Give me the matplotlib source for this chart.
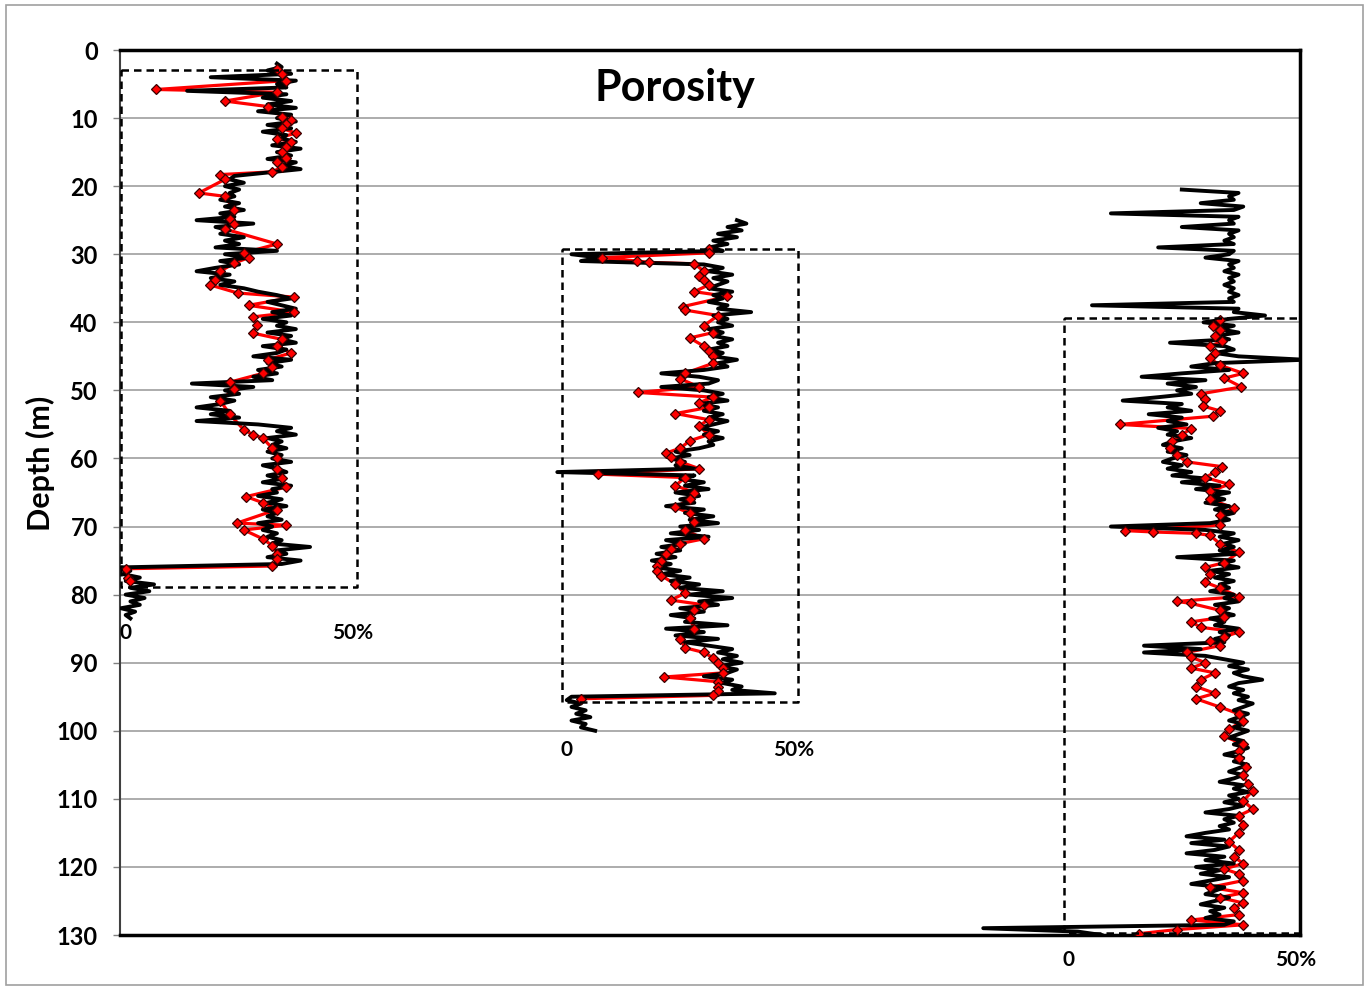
import numpy as np
import matplotlib
matplotlib.use("Agg")
import matplotlib.pyplot as plt
from matplotlib import rc
from matplotlib.patches import Rectangle

rc('font', family='Lato', weight='bold', size=15)

#################################
##      log porosity (%)       ##
#################################
# log samples every 0.5 m starting at the given top depth

log1_top = 2.0
log1_phi = [33, 34, 31, 36, 19, 37, 33, 35, 14, 35,
            30, 36, 31, 37, 29, 36, 33, 37, 31, 36,
            30, 35, 34, 37, 32, 38, 33, 36, 31, 37,
            34, 38, 31, 24, 23, 26, 22, 25, 23, 24,
            21, 25, 22, 26, 21, 24, 16, 28, 20, 23,
            21, 26, 22, 25, 20, 33, 22, 27, 21, 25,
            20, 16, 23, 19, 24, 21, 26, 29, 33, 36,
            31, 34, 37, 32, 36, 30, 35, 33, 37, 31,
            36, 34, 37, 30, 35, 33, 28, 36, 31, 34,
            29, 33, 28, 32, 15, 28, 22, 25, 19, 24,
            21, 16, 23, 19, 25, 16, 29, 36, 33, 37,
            31, 34, 32, 35, 31, 34, 32, 36, 30, 33,
            35, 31, 34, 30, 36, 32, 33, 29, 34, 31,
            35, 30, 33, 31, 34, 29, 32, 30, 33, 31,
            34, 32, 40, 33, 35, 31, 38, 34, 0, 2,
            0.5, 4, 1, 7, 2, 6, 1, 5, 2, 4,
            0, 3, 1, 2]

log2_top = 25.0
log2_phi = [37, 39, 35, 38, 33, 37, 32, 35, 31, 34,
            2, 8, 4, 30, 34, 31, 36, 32, 35, 33,
            31, 36, 32, 34, 31, 35, 33, 40, 32, 35,
            33, 36, 31, 34, 32, 36, 33, 35, 31, 34,
            32, 37, 33, 35, 30, 21, 29, 33, 31, 21,
            30, 34, 31, 35, 29, 33, 30, 34, 31, 35,
            32, 29, 33, 30, 34, 31, 32, 29, 24, 27,
            23, 26, 24, 28, -1, 28, 25, 30, 26, 31,
            24, 29, 25, 28, 22, 30, 26, 32, 27, 33,
            25, 29, 23, 31, 22, 26, 21, 25, 20, 24,
            19, 23, 20, 25, 21, 27, 23, 29, 25, 34,
            27, 36, 29, 33, 25, 30, 23, 28, 26, 35,
            22, 30, 24, 33, 26, 31, 36, 33, 37, 34,
            38, 33, 37, 35, 30, 36, 34, 38, 36, 45,
            2, 1, 4, 2, 5, 3, 6, 2, 5, 4,
            7]

log3_top = 20.5
log3_phi = [25, 37, 35, 36, 29, 38, 36, 10, 37, 35,
            36, 25, 37, 35, 36, 34, 36, 20, 36, 35,
            30, 37, 35, 36, 34, 37, 35, 36, 34, 36,
            35, 37, 35, 36, 6, 37, 36, 42.6, 35, 29.6,
            36, 33, 37, 32, 35, 22.5, 34, 36, 32, 37,
            51, 32, 27, 35, 25, 16.5, 30, 22, 28, 24,
            27, 20, 12.5, 25, 22, 27, 18, 25, 22, 26,
            20, 24, 22, 27, 23, 21, 25, 22, 26, 23,
            21, 25, 22, 27, 23, 31, 25, 33, 28, 35,
            31, 34, 30, 35, 32, 36, 33, 35, 31, 10,
            30, 36, 33, 37, 34, 36, 33, 37, 24, 36,
            33, 37, 31, 35, 32, 36, 33, 35, 31, 36,
            34, 37, 32, 35, 33, 36, 31, 34, 32, 37,
            33, 35, 32, 34, 17, 29, 17, 30, 34, 38,
            35, 39, 36, 38, 42, 37, 35, 38, 36, 39,
            37, 40, 38, 36, 39, 37, 35, 38, 36, 39,
            37, 35, 38, 36, 39, 37, 34, 38, 36, 39,
            37, 35, 38, 36, 33, 38, 36, 39, 35, 37,
            34, 38, 35, 30, 37, 34, 36, 33, 35, 30,
            26, 34, 27, 35, 32, 26, 34, 30, 36, 28,
            33, 29, 35, 31, 27, 34, 32, 30, 35, 32,
            29, 34, 31, 33, 30, 36, 34, -17, 3, 8]

#################################
##      core porosity (%)      ##
#################################

core1_depth = [2.8, 3.5, 4.5, 5.8, 6.2, 7.5, 8.3, 9.8, 10.3, 10.8, 11.5, 12.2,
               13.0, 13.5, 14.2, 15.0, 15.8, 16.5, 17.2, 17.9, 18.3, 19.0,
               21.0, 21.5, 23.5, 24.8, 25.5, 26.3, 28.5, 29.8, 30.5, 31.3,
               32.5, 33.8, 34.5, 35.7, 36.3, 37.5, 38.5, 39.2, 40.4, 41.6,
               42.5, 43.5, 44.5, 45.5, 46.5, 47.5, 48.8, 49.8, 51.5, 53.5,
               55.8, 56.5, 57.0, 58.5, 60.0, 61.5, 62.8, 64.2, 65.6, 66.5,
               67.5, 69.5, 69.8, 70.5, 71.8, 72.8, 74.0, 74.8, 75.8, 76.2,
               77.5, 78.0]
core1_phi = [33, 34, 35, 7.5, 33, 22, 31, 34, 36, 35, 34, 37,
             33, 36, 35, 34, 35, 33, 34, 32, 21, 22,
             16.5, 22, 24, 23, 24, 22, 33, 26, 27, 24,
             21, 20, 18.8, 24.7, 36.7, 27, 36.7, 28, 28.7, 28,
             34, 33, 36, 31, 32, 30, 23, 24, 21, 23,
             26, 28, 30, 32, 33, 33, 34, 35, 26.5, 30,
             33, 24.5, 35, 26, 30, 32, 33, 33, 32, 1,
             1.5, 2]

core2_depth = [29.3, 29.8, 30.5, 31.0, 31.2, 31.4, 32.5, 33.2, 33.8, 34.5,
               35.5, 36.2, 37.7, 38.2, 39.0, 40.5, 41.5, 42.3, 43.5, 44.2,
               45.0, 46.0, 47.5, 48.3, 49.5, 50.3, 51.0, 51.8, 52.5, 53.4,
               54.3, 55.2, 56.5, 57.4, 58.5, 59.2, 59.8, 60.5, 61.5, 62.3,
               62.8, 64.0, 65.0, 66.0, 67.2, 68.0, 69.3, 70.5, 71.8, 72.5,
               73.3, 74.0, 75.0, 75.8, 76.6, 77.2, 78.5, 79.8, 80.8, 81.5,
               82.3, 83.5, 85.0, 86.5, 87.8, 88.5, 89.3, 90.0, 90.8, 91.5,
               92.1, 92.8, 93.5, 94.2, 94.8, 95.3]
core2_phi = [31, 31, 8.4, 15.8, 18.5, 28, 30, 29, 30, 31,
             28, 35, 25.5, 26, 33, 30, 32, 27, 30, 31,
             32, 32, 26, 25, 29, 16, 32, 29, 31, 24,
             31, 29, 31, 27, 25, 22, 23, 25, 29, 7.6,
             26, 24, 28, 27, 24, 27, 28, 26, 30, 25,
             23, 22, 21, 20, 20, 21, 24, 26, 23, 30,
             28, 27, 28, 25, 26, 30, 32, 33, 34, 34,
             21.6, 33, 33, 33, 32, 4]

core3_depth = [39.6, 40.5, 41.2, 42.0, 42.8, 43.5, 44.5, 45.3, 46.3, 47.5,
               48.2, 49.5, 50.5, 51.2, 52.3, 53.0, 53.8, 55.0, 55.6, 56.5,
               57.5, 58.5, 59.5, 60.5, 61.2, 62.0, 62.8, 63.8, 64.8, 66.0,
               67.3, 68.3, 69.8, 70.6, 70.8, 71.0, 71.3, 72.5, 73.8, 75.3,
               76.0, 77.0, 78.2, 79.0, 80.3, 81.0, 81.3, 82.3, 83.3, 84.0,
               84.8, 85.5, 86.2, 86.8, 87.5, 88.5, 89.2, 90.0, 90.8, 91.5,
               92.5, 93.5, 94.5, 95.3, 96.5, 97.5, 98.5, 99.8, 100.8, 102.0,
               103.0, 104.0, 105.3, 106.5, 107.8, 108.8, 110.3, 111.5, 112.5, 113.8,
               115.0, 116.3, 117.5, 118.5, 119.5, 120.3, 121.0, 122.0, 123.0, 123.8,
               124.5, 125.3, 126.0, 127.0, 127.8, 128.5, 129.2, 129.8]
core3_phi = [33, 31.6, 33, 32, 33.5, 31, 32, 31, 33, 38,
             34, 37.6, 29, 30, 29.5, 33, 31.5, 11.9, 27, 25,
             23, 22.5, 24, 26, 33.5, 32, 30, 35, 31, 31,
             36, 33, 33, 13, 19, 28, 31, 33, 37, 34,
             30, 31, 30, 33, 37, 24, 27, 33, 34, 27,
             29, 37, 34, 31, 33, 26, 27, 30, 27, 32,
             29, 28, 32, 28, 33, 37, 38, 35, 34, 38,
             37, 37, 38.5, 38, 39, 40, 38, 40, 37, 38,
             37, 35, 37, 36, 38, 34, 37, 38, 31, 38,
             33, 38, 36, 37, 27, 38, 24, 16]

# x position of each track's 0 %, in % units across the chart
offsets = [0.2, 93.5, 199.6]
box_top = [2.9, 29.2, 39.4]
box_bot = [78.9, 95.8, 129.7]
lab_depth = [85.6, 102.8, 133.7]

fig = plt.figure(figsize=(13.66, 9.90), dpi=100)
ax = fig.add_axes([120/1366, 1-935/990, 1180/1366, 885/990])

logs = [(log1_top, log1_phi, core1_depth, core1_phi),
        (log2_top, log2_phi, core2_depth, core2_phi),
        (log3_top, log3_phi, core3_depth, core3_phi)]

for off, (top, phi, cd, cp), bt, bb, ld in zip(offsets, logs, box_top, box_bot, lab_depth):
    d = top + 0.5*np.arange(len(phi))
    ax.plot(np.array(cp)+off, cd, color='red', lw=2.3, zorder=3)
    ax.plot(np.array(phi)+off, d, color='black', lw=2.8, zorder=4)
    ax.plot(np.array(cp)+off, cd, ls='none', marker='D', ms=5,
            mfc='red', mec='#3a0000', mew=0.9, zorder=5)
    ax.plot([off, off+50, off+50, off, off], [bt, bt, bb, bb, bt],
            color='black', lw=1.8, ls=(0, (3, 2)), zorder=6, clip_on=False)
    ax.text(off+1, ld, '0', ha='center', va='center', clip_on=False)
    ax.text(off+49, ld, '50%', ha='center', va='center', clip_on=False)

ax.set_xlim(0, 249.6)
ax.set_ylim(130, 0)
ax.set_xticks([])
ax.set_yticks(range(0, 131, 10))
ax.yaxis.grid(True, color='#a6a6a6', lw=1.3)
ax.set_axisbelow(True)
ax.tick_params(axis='y', length=5, width=1, color='#808080', pad=11, labelsize=17)

for s in ['top', 'right', 'bottom']:
    ax.spines[s].set_linewidth(2.5)
    ax.spines[s].set_color('black')
ax.spines['left'].set_linewidth(1.5)
ax.spines['left'].set_color('#404040')

fig.text(675/1366, 1-88/990, 'Porosity', ha='center', va='center', fontsize=31)
fig.text(40/1366, 1-463/990, 'Depth (m)', ha='center', va='center',
         rotation=90, fontsize=22)

fig.patches.append(Rectangle((6/1366, 5/990), 1357/1366, 980/990,
                             transform=fig.transFigure, fill=False,
                             edgecolor='#a0a0a0', lw=1.2))

fig.savefig('out.png', dpi=100)
